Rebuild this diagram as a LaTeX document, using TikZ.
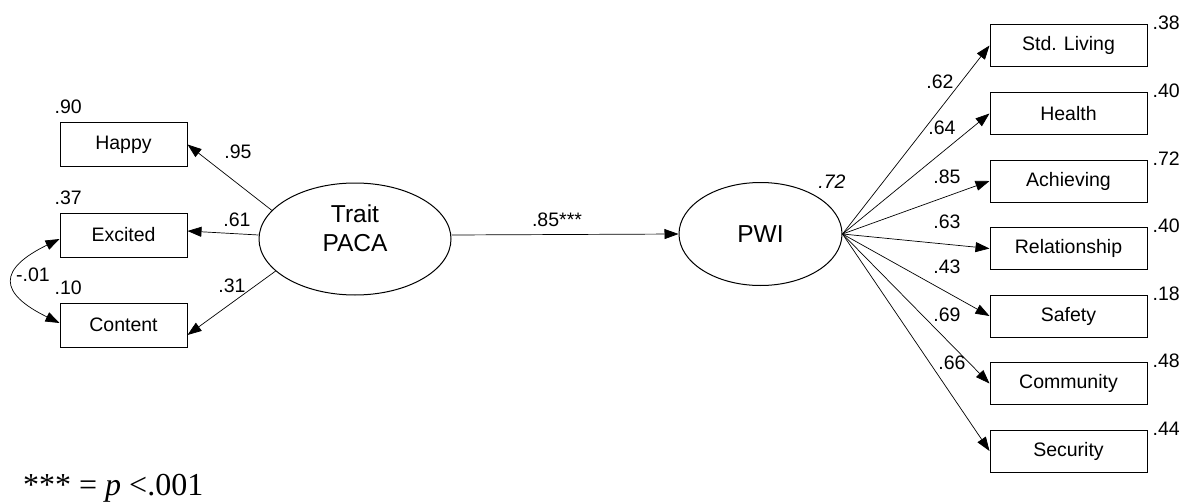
\documentclass[tikz,border=0pt]{standalone}
\usepackage{fontspec}
\setmainfont{Liberation Sans}
\newfontfamily\notefont{Liberation Serif}
\usetikzlibrary{arrows.meta,shapes.geometric}
\begin{document}
\begin{tikzpicture}[x=1pt,y=-1pt,
  obs/.style={draw, line width=1pt, minimum width=127pt, minimum height=44pt, inner sep=0pt,
    font=\fontsize{19.5}{23}\selectfont},
  robs/.style={obs, minimum width=157pt, minimum height=42pt},
  latent/.style={draw, ellipse, line width=1pt, inner sep=0pt,
    font=\fontsize{24.5}{29}\selectfont},
  load/.style={-{Triangle[length=14pt,width=10pt]}, line width=0.7pt},
  corr/.style={{Triangle[length=14pt,width=10pt]}-{Triangle[length=14pt,width=10pt]}, line width=0.7pt},
  coef/.style={inner sep=0pt, font=\fontsize{19.5}{23}\selectfont},
  rsq/.style={coef, anchor=west},
]
\useasboundingbox (0,0) rectangle (1181,503);

% latent variables
\node[latent, minimum width=192pt, minimum height=112pt,
  label={[yshift=11pt, align=center, font=\fontsize{24.5}{29}\selectfont]center:Trait\\PACA}]
  (trait) at (355,239) {};
\node[latent, minimum width=163pt, minimum height=103pt] (pwi) at (760.5,234) {PWI};

% PACA indicators
\node[obs] (happy)   at (123.5,144.5) {Happy};
\node[obs] (excited) at (123.5,235)   {Excited};
\node[obs] (content) at (123.5,325)   {Content};

% PWI domains
\node[robs] (std)  at (1068.5,45.5)  {Std. Living};
\node[robs] (hlth) at (1068.5,113.5) {Health};
\node[robs] (ach)  at (1068.5,181)   {Achieving};
\node[robs] (rel)  at (1068.5,248.5) {Relationship};
\node[robs] (saf)  at (1068.5,316)   {Safety};
\node[robs] (com)  at (1068.5,383.5) {Community};
\node[robs] (sec)  at (1068.5,451)   {Security};

% structural path
\draw[load] ([yshift=4pt]trait.east) -- (pwi.west);
\node[coef] (beta) at (557,220) {.85***};

% measurement model: PACA
\draw[load] (trait.161) -- (happy.east);
\draw[load] ([yshift=4pt]trait.west) -- ([yshift=4pt]excited.east);
\draw[load] (trait.202) -- ([yshift=-10pt]content.east);
\node[coef] (l1) at (238,152) {.95};
\node[coef] (l2) at (237,220) {.61};
\node[coef] (l3) at (232,286) {.31};

% residual covariance
\draw[corr] ([yshift=-4pt]excited.west) .. controls (-2,269) and (-2,293) .. ([yshift=2pt]content.west);
\node[coef] (cv) at (33,275) {-.01};

% squared multiple correlations, PACA side
\node[rsq] (r1) at ([xshift=-5pt,yshift=15pt]happy.north west)   {.90};
\node[rsq] (r2) at ([xshift=-5pt,yshift=15pt]excited.north west) {.37};
\node[rsq] (r3) at ([xshift=-5pt,yshift=15pt]content.north west) {.10};

% measurement model: PWI
\foreach \b in {std,hlth,ach,rel,saf,com,sec}
  \draw[load] (pwi.east) -- (\b.west);
\node[coef] (m1) at (940,82)  {.62};
\node[coef] (m2) at (942,128) {.64};
\node[coef] (m3) at (947,177) {.85};
\node[coef] (m4) at (947,222) {.63};
\node[coef] (m5) at (947,267) {.43};
\node[coef] (m6) at (947,315) {.69};
\node[coef] (m7) at (952,363) {.66};

% squared multiple correlations, PWI side
\node[rsq] (s1) at ([xshift=5pt,yshift=1pt]std.north east)  {.38};
\node[rsq] (s2) at ([xshift=5pt,yshift=1pt]hlth.north east) {.40};
\node[rsq] (s3) at ([xshift=5pt,yshift=1pt]ach.north east)  {.72};
\node[rsq] (s4) at ([xshift=5pt,yshift=1pt]rel.north east)  {.40};
\node[rsq] (s5) at ([xshift=5pt,yshift=1pt]saf.north east)  {.18};
\node[rsq] (s6) at ([xshift=5pt,yshift=1pt]com.north east)  {.48};
\node[rsq] (s7) at ([xshift=5pt,yshift=1pt]sec.north east)  {.44};
\node[coef] (spwi) at (832,182) {\itshape .72};

% significance note
\node[inner sep=0pt, anchor=base west, font=\notefont\fontsize{32}{36}\selectfont]
  (note) at (23,495) {*** = \textit{p} <.001};
\end{tikzpicture}
\end{document}
